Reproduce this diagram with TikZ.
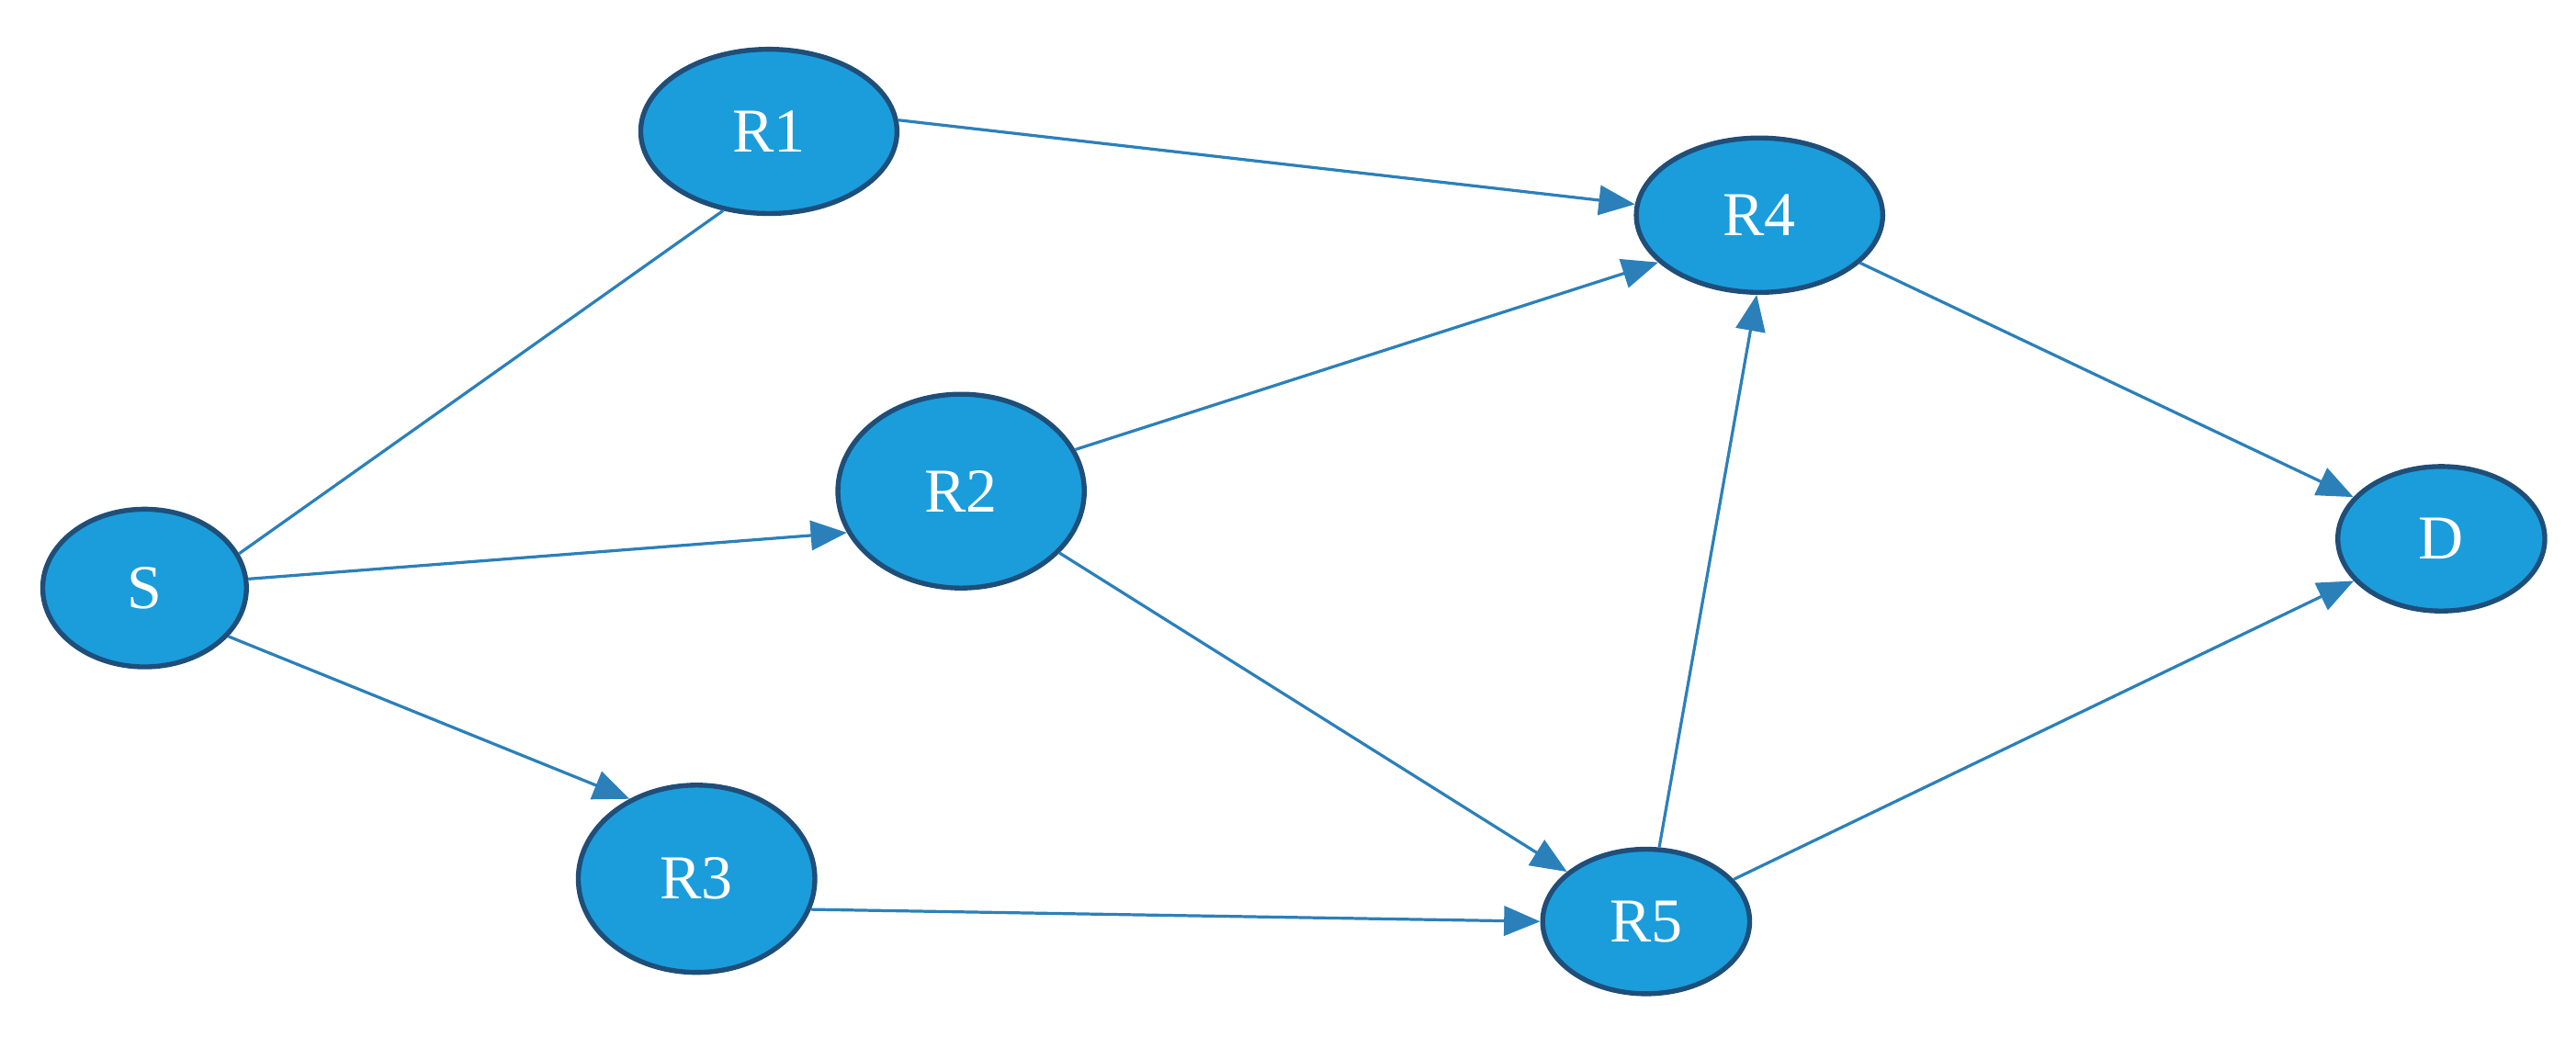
\documentclass[tikz,border=0pt]{standalone}
\usetikzlibrary{arrows.meta,shapes.geometric}
\usepackage{fontspec}
\setmainfont{Liberation Serif}
\definecolor{nfill}{HTML}{1B9DDB}
\definecolor{nbord}{HTML}{1F4E79}
\definecolor{edge}{HTML}{2B80BA}
\begin{document}
\begin{tikzpicture}[x=0.5pt,y=-0.5pt,
  nd/.style={ellipse,draw=nbord,line width=1.5pt,fill=nfill,text=white,inner sep=0pt,font=\fontsize{19}{21}\selectfont},
  ar/.style={draw=edge,line width=0.9pt,-{Triangle[length=11pt,width=9pt]}},
  ln/.style={draw=edge,line width=0.9pt}]
\useasboundingbox (0,0) rectangle (1568,631);
\node[nd,minimum width=62pt,minimum height=48pt] (S) at (88,358) {S};
\node[nd,minimum width=78pt,minimum height=50pt] (R1) at (468,80) {R1};
\node[nd,minimum width=75pt,minimum height=47pt] (R4) at (1071,131) {R4};
\node[nd,minimum width=75pt,minimum height=59pt] (R2) at (585,299) {R2};
\node[nd,minimum width=63pt,minimum height=44pt] (D) at (1486,328) {D};
\node[nd,minimum width=72pt,minimum height=57pt] (R3) at (424,535) {R3};
\node[nd,minimum width=63pt,minimum height=44pt] (R5) at (1002,561) {R5};
\draw[ln] (S.20) -- (R1.240);
\draw[ar] (R1.5) -- (R4.175);
\draw[ar] (S.5) -- (R2.200);
\draw[ar] (S.-30) -- (R3.130);
\draw[ar] (R2.20) -- (R4.205);
\draw[ar] (R2) -- (R5);
\draw[ar] (R3.-15) -- (R5.180);
\draw[ar] (R5.80) -- (R4.-92);
\draw[ar] (R4) -- (D);
\draw[ar] (R5) -- (D);
\end{tikzpicture}
\end{document}
